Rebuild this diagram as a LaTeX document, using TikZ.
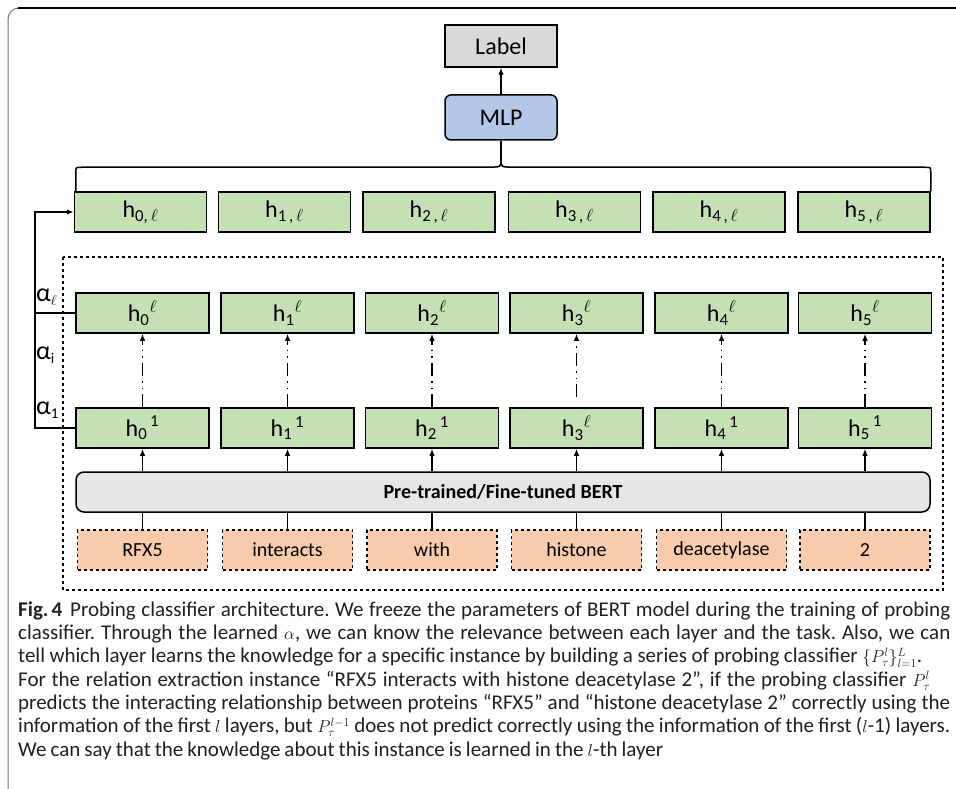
\documentclass[tikz,border=0pt]{standalone}
\usepackage{fontspec}
\usepackage{amsmath}
\setmainfont{Carlito}
\newfontfamily\capfont{Carlito}[WordSpace=0.85]
\usetikzlibrary{arrows.meta}
\definecolor{gfill}{HTML}{C5E0B4}
\definecolor{lfill}{HTML}{D9D9D9}
\definecolor{mfill}{HTML}{B4C7E7}
\definecolor{bfill}{HTML}{E7E6E6}
\definecolor{ofill}{HTML}{F8CBAD}
\definecolor{capcol}{HTML}{231F20}
\newcommand{\hh}[2]{$\text{h}_{\text{#1}}{}^{#2}$}
\newcommand{\hc}[1]{$\text{h}_{\text{#1}\,\ell}$}
\newcommand{\cm}[1]{{\fontsize{18}{20}\selectfont$#1$}}
\frenchspacing
\begin{document}
\begin{tikzpicture}[x=1pt,y=-1pt,
  box/.style={draw=black,line width=1.5pt,inner sep=0pt,font=\fontsize{24}{28}\selectfont},
  hbox/.style={box,fill=gfill,minimum width=132pt,minimum height=40pt},
  tok/.style={box,fill=ofill,dashed,line width=1.2pt,minimum width=130pt,minimum height=40pt,font=\fontsize{20}{24}\selectfont},
  conn/.style={line width=1.3pt,-{Latex[length=7pt,width=5.5pt]}},
  plain/.style={line width=1.3pt},
  dd/.style={line width=1.4pt,-{Latex[length=7pt,width=5.5pt]},dash pattern=on 13pt off 5pt on 1.6pt off 5pt on 1.6pt off 5pt},
  capl/.style={anchor=base west,inner sep=0pt,text=capcol,font=\capfont\fontsize{21}{23}\selectfont}
]
\useasboundingbox (0,0) rectangle (956,789);
% outer frame
\begin{scope}
\clip (0,0) rectangle (956,789);
\draw[black!55,line width=1pt,rounded corners=11pt] (8,800) -- (8,8) -- (970,8);
\draw[black,line width=1.6pt] (18,8) -- (970,8);
\end{scope}

% top
\node[box,fill=lfill,minimum width=112pt,minimum height=42pt] (label) at (501,46) {Label};
\node[box,fill=mfill,rounded corners=6pt,minimum width=112pt,minimum height=45pt] (mlp) at (501,117.5) {MLP};
\draw[conn] (mlp.north) -- (label.south);

% combined row
\foreach \i/\x in {0/140.5,1/284.5,2/429,3/574.5,4/719,5/864}{
  \node[hbox] (t\i) at (\x,212) {};
}
\node at (t0) [font=\fontsize{24}{28}\selectfont] {\hc{0,}};
\node at (t1) [font=\fontsize{24}{28}\selectfont] {\hc{1\,,}};
\node at (t2) [font=\fontsize{24}{28}\selectfont] {\hc{2\,,}};
\node at (t3) [font=\fontsize{24}{28}\selectfont] {\hc{3\,,}};
\node at (t4) [font=\fontsize{24}{28}\selectfont] {\hc{4\,,}};
\node at (t5) [font=\fontsize{24}{28}\selectfont] {\hc{5\,,}};

% brace
\coordinate (tip) at (501,160);
\draw[line width=1.5pt] (t0.north west) ++(2,0) -- ++(0,-19) .. controls +(0,-5) and +(-6,0) .. ++(6,-5) -- (495,167) .. controls (500,167) and (501,166) .. (tip);
\draw[line width=1.5pt] (t5.north east) -- ++(0,-19) .. controls +(0,-5) and +(6,0) .. ++(-6,-5) -- (507,167) .. controls (502,167) and (501,166) .. (tip);
\draw[line width=1.5pt] (tip) -- (mlp.south);

% dashed region
\draw[dashed,line width=1.2pt] (63,257) rectangle (943,590);

% layer rows
\foreach \i/\x in {0/142.5,1/287.5,2/432,3/576.5,4/721.5,5/865}{
  \node[hbox,minimum width=133pt] (L\i) at (\x,313) {\hh{\i}{\ell}};
  \node[tok] (w\i) at (\x,550) {};
}
\node[hbox,minimum width=133pt] (F0) at (142.5,428) {\hh{0}{\,\text{1}}};
\node[hbox,minimum width=133pt] (F1) at (287.5,428) {\hh{1}{\,\text{1}}};
\node[hbox,minimum width=133pt] (F2) at (432,428) {\hh{2}{\,\text{1}}};
\node[hbox,minimum width=133pt] (F3) at (576.5,428) {\hh{3}{\ell}};
\node[hbox,minimum width=133pt] (F4) at (721.5,428) {\hh{4}{\,\text{1}}};
\node[hbox,minimum width=133pt] (F5) at (865,428) {\hh{5}{\,\text{1}}};

\node at (w0) [font=\fontsize{20}{24}\selectfont] {RFX5};
\node at (w1) [font=\fontsize{20}{24}\selectfont] {interacts};
\node at (w2) [font=\fontsize{20}{24}\selectfont] {with};
\node at (w3) [font=\fontsize{20}{24}\selectfont] {histone};
\node at (w4) [font=\fontsize{20}{24}\selectfont] {deacetylase};
\node at (w5) [font=\fontsize{20}{24}\selectfont] {2};

\node[box,fill=bfill,rounded corners=8pt,minimum width=854pt,minimum height=40pt,font=\fontsize{20}{24}\selectfont\bfseries] (bert) at (503,492) {Pre-trained/Fine-tuned BERT};

\foreach \i in {0,1,2,4,5}{
  \draw[dd] (F\i.north) -- (L\i.south);
}
\draw[dd] ([yshift=10pt]F3.north) -- (L3.south);
\foreach \i in {0,...,5}{
  \draw[conn] (bert.north -| F\i) -- (F\i.south);
  \draw[plain] (w\i.north) -- (bert.south -| w\i);
}

% feedback line
\coordinate (fb) at (35,0);
\draw[conn] (F0.west) -- (fb |- F0.west) -- (fb |- t0.west) -- (t0.west);
\draw[plain] (L0.west) -- (fb |- L0.west);
\node[anchor=west,inner sep=0pt,font=\fontsize{26}{28}\selectfont] (al) at (36,297) {α\raisebox{-4pt}{\fontsize{15}{16}\selectfont$\ell$}};
\node[anchor=west,inner sep=0pt,font=\fontsize{26}{28}\selectfont] (ai) at (36,355) {α\raisebox{-4pt}{\fontsize{15}{16}\selectfont i}};
\node[anchor=west,inner sep=0pt,font=\fontsize{26}{28}\selectfont] (a1) at (36,410) {α\raisebox{-4pt}{\fontsize{15}{16}\selectfont 1}};

% caption
\node[capl] (c1) at (18,616) {\makebox[932pt][s]{\textbf{Fig.\hspace{3pt}4}\hspace{8pt}Probing classifier architecture. We freeze the parameters of BERT model during the training of probing}};
\node[capl] (c2) at (18,639.3) {\makebox[932pt][s]{classifier. Through the learned \cm{\alpha}, we can know the relevance between each layer and the task. Also, we can}};
\node[capl] (c3) at (18,662.6) {\makebox[904pt][s]{tell which layer learns the knowledge for a specific instance by building a series of probing classifier \cm{\{P_\tau^{l}\}_{l=1}^{L}}.}};
\node[capl] (c4) at (18,686) {\makebox[912pt][s]{For the relation extraction instance “RFX5 interacts with histone deacetylase 2”, if the probing classifier \cm{P_\tau^{l}}}};
\node[capl] (c5) at (18,709.3) {\makebox[932pt][s]{predicts the interacting relationship between proteins “RFX5” and “histone deacetylase 2” correctly using the}};
\node[capl] (c6) at (18,732.6) {\makebox[932pt][s]{information of the first \cm{l} layers, but \cm{P_\tau^{l-1}} does not predict correctly using the information of the first (\cm{l}-1) layers.}};
\node[capl] (c7) at (18,756) {We can say that the knowledge about this instance is learned in the \cm{l}-th layer};
\end{tikzpicture}
\end{document}
